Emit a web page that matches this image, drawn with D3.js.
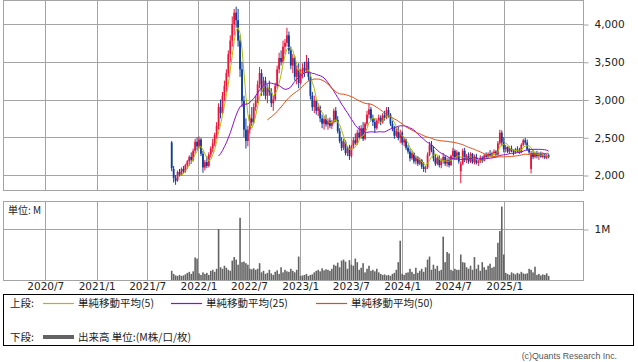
<!DOCTYPE html>
<html>
<head>
<meta charset="utf-8">
<script src="https://cdn.jsdelivr.net/npm/d3@7"></script>
<style>
  body { margin: 0; background: #fff; }
  svg { display: block; }
  .num { font-family: "DejaVu Sans", sans-serif; fill: #222; }
  .jp { font-family: "Noto Sans CJK JP", sans-serif; fill: #222; }
</style>
</head>
<body>
<div id="chart"></div>
<script>
// weekly bars, first week starts 2021/9/27
const firstWeek = new Date(2021, 8, 27);

const weekOpen = [
  2430,2080,1960,1930,2040,2000,2080,2050,2130,2180,
  2240,2200,2320,2440,2380,2470,2280,2100,2170,2120,
  2270,2350,2420,2530,2650,2900,2820,3050,3180,3350,
  3600,3780,4000,4150,4050,3780,3400,2980,2600,2450,
  2600,2750,2700,2900,2980,3200,3350,3100,3250,3050,
  3150,3100,2950,3000,3180,3400,3550,3500,3700,3750,
  3850,3650,3450,3550,3300,3400,3220,3350,3420,3380,
  3500,3300,3050,2900,2980,2850,2900,2750,2680,2740,
  2670,2720,2650,2700,2850,2730,2580,2450,2360,2440,
  2290,2350,2250,2380,2460,2420,2560,2500,2620,2480,
  2680,2800,2870,2750,2700,2620,2720,2760,2700,2790,
  2760,2860,2800,2680,2620,2520,2580,2490,2560,2430,
  2470,2360,2310,2220,2290,2180,2230,2150,2200,2110,
  2080,2100,2270,2400,2330,2220,2150,2230,2130,2190,
  2240,2150,2200,2130,2250,2320,2230,2300,2050,2150,
  2320,2200,2250,2180,2280,2170,2240,2160,2180,2230,
  2190,2260,2240,2280,2260,2290,2310,2270,2420,2560,
  2430,2340,2370,2310,2350,2320,2300,2340,2320,2300,
  2400,2460,2430,2340,2080,2290,2240,2290,2250,2280,
  2240,2270,2230,2260
];
const weekHigh = [
  2450,2120,2000,2060,2080,2100,2120,2150,2200,2260,
  2300,2350,2480,2500,2510,2490,2320,2200,2250,2300,
  2380,2480,2560,2700,2950,3000,3100,3250,3400,3650,
  3850,4100,4200,4230,4200,3850,3500,3050,2750,2650,
  2800,2900,2950,3050,3250,3430,3400,3300,3300,3200,
  3250,3150,3050,3220,3450,3620,3650,3780,3800,3950,
  3900,3700,3600,3580,3450,3480,3400,3480,3500,3590,
  3550,3350,3100,3050,3000,2950,2920,2800,2780,2800,
  2750,2760,2730,2880,2900,2780,2620,2500,2480,2460,
  2380,2400,2400,2500,2550,2600,2650,2660,2700,2700,
  2850,2950,2900,2800,2750,2750,2800,2790,2820,2850,
  2900,2900,2820,2720,2650,2620,2640,2600,2580,2500,
  2480,2400,2350,2320,2300,2260,2250,2230,2210,2170,
  2120,2300,2440,2450,2380,2280,2250,2260,2220,2290,
  2260,2230,2230,2270,2360,2340,2330,2310,2180,2350,
  2360,2280,2300,2300,2290,2270,2280,2200,2260,2250,
  2280,2300,2300,2330,2310,2340,2330,2450,2600,2590,
  2500,2400,2380,2380,2390,2340,2360,2380,2360,2420,
  2480,2490,2470,2360,2320,2330,2310,2320,2300,2310,
  2300,2290,2280,2280
];
const weekLow = [
  2050,1900,1870,1910,1980,1990,2020,2030,2080,2120,
  2150,2180,2280,2330,2350,2250,2030,2060,2090,2100,
  2230,2300,2380,2480,2600,2750,2800,2980,3100,3300,
  3500,3700,3850,3950,3700,3300,2900,2500,2350,2380,
  2550,2650,2680,2850,2950,3150,3050,3050,3000,2950,
  3050,2900,2850,2980,3150,3350,3450,3480,3600,3700,
  3600,3400,3350,3250,3200,3150,3200,3280,3300,3350,
  3250,3000,2850,2820,2800,2780,2700,2620,2600,2640,
  2600,2620,2610,2680,2700,2550,2420,2320,2330,2260,
  2250,2200,2230,2350,2400,2400,2480,2480,2450,2460,
  2650,2750,2720,2650,2560,2600,2680,2660,2680,2720,
  2740,2760,2650,2580,2480,2500,2460,2420,2400,2380,
  2330,2280,2180,2200,2150,2140,2120,2130,2080,2040,
  2030,2080,2250,2300,2180,2120,2130,2100,2090,2150,
  2120,2110,2100,2120,2200,2200,2200,2150,1890,2130,
  2170,2160,2150,2160,2150,2140,2140,2120,2160,2160,
  2180,2220,2220,2240,2230,2260,2250,2250,2400,2380,
  2300,2300,2290,2280,2300,2260,2280,2300,2280,2290,
  2380,2400,2320,2280,2020,2210,2220,2220,2200,2230,
  2220,2210,2210,2220
];
const weekClose = [
  2090,1960,1920,2040,2000,2080,2050,2130,2180,2240,
  2200,2320,2440,2380,2470,2280,2100,2170,2120,2270,
  2350,2420,2530,2650,2900,2820,3050,3180,3350,3600,
  3780,4000,4150,4050,3780,3400,2980,2600,2450,2600,
  2750,2700,2900,2980,3200,3350,3100,3250,3050,3150,
  3100,2950,3000,3180,3400,3550,3500,3700,3750,3850,
  3650,3450,3550,3300,3400,3220,3350,3420,3380,3500,
  3300,3050,2900,2980,2850,2900,2750,2680,2740,2670,
  2720,2650,2700,2850,2730,2580,2450,2360,2440,2290,
  2350,2250,2380,2460,2420,2560,2500,2620,2480,2680,
  2800,2870,2750,2700,2620,2720,2760,2700,2790,2760,
  2860,2800,2680,2620,2520,2580,2490,2560,2430,2470,
  2360,2310,2220,2290,2180,2230,2150,2200,2110,2080,
  2100,2270,2400,2330,2220,2150,2230,2130,2190,2240,
  2150,2200,2130,2250,2320,2230,2300,2180,2150,2320,
  2200,2250,2180,2280,2170,2240,2160,2180,2230,2190,
  2260,2240,2280,2260,2290,2310,2270,2420,2560,2430,
  2340,2370,2310,2350,2320,2300,2340,2320,2300,2400,
  2460,2430,2340,2300,2290,2240,2290,2250,2280,2240,
  2270,2230,2260,2240
];
// volume in millions
const weekVolume = [
  0.18,0.12,0.09,0.08,0.10,0.08,0.09,0.11,0.14,0.16,
  0.12,0.17,0.44,0.42,0.13,0.10,0.15,0.12,0.14,0.10,
  0.18,0.20,0.16,0.22,1.00,0.25,0.22,0.28,0.24,0.20,
  0.18,0.38,0.45,0.40,0.30,1.22,0.35,0.36,0.33,0.30,
  0.22,0.21,0.23,0.20,0.22,0.33,0.15,0.18,0.12,0.14,
  0.20,0.13,0.10,0.16,0.19,0.12,0.25,0.15,0.20,0.17,
  0.16,0.22,0.18,0.15,0.20,0.46,0.08,0.09,0.10,0.12,
  0.08,0.10,0.11,0.15,0.18,0.20,0.17,0.23,0.19,0.21,
  0.20,0.18,0.22,0.30,0.28,0.34,0.25,0.38,0.40,0.36,
  0.22,0.39,0.30,0.28,0.42,0.35,0.20,0.24,0.33,0.15,
  0.22,0.28,0.18,0.20,0.17,0.22,0.15,0.12,0.10,0.11,
  0.09,0.10,0.08,0.12,0.14,0.20,0.35,0.77,0.12,0.10,
  0.14,0.15,0.22,0.16,0.12,0.24,0.14,0.18,0.22,0.16,
  0.25,0.40,0.46,0.20,0.30,0.22,0.28,0.18,0.20,0.85,
  0.35,0.55,0.52,0.20,0.18,0.22,0.20,0.20,0.50,0.35,
  0.34,0.25,0.22,0.28,0.20,0.45,0.22,0.30,0.18,0.35,
  0.25,0.20,0.28,0.32,0.24,0.26,0.45,0.73,0.96,1.44,
  0.50,0.14,0.12,0.10,0.15,0.13,0.11,0.14,0.12,0.16,
  0.13,0.12,0.13,0.22,0.20,0.15,0.26,0.10,0.12,0.09,
  0.11,0.10,0.13,0.08
];

const priceTicks = [2000, 2500, 3000, 3500, 4000];
const volumeTicks = [1];
const dateTicks = ["2020/7","2021/1","2021/7","2022/1","2022/7","2023/1","2023/7","2024/1","2024/7","2025/1"];
const maPeriods = [5, 25, 50];
const maColors = ["#aabd00", "#8a0fd0", "#dc4e18"];
const legendNames = ["単純移動平均(5)", "単純移動平均(25)", "単純移動平均(50)"];

const W = 638, H = 362;
const left = 3, right = 583;
const priceTop = 0, priceBottom = 190;
const volTop = 201, volBottom = 280;

const parseTick = d3.timeParse("%Y/%m");
const tickDates = dateTicks.map(parseTick);

const x = d3.scaleTime()
    .domain([new Date(2020, 6, 1), new Date(2025, 0, 1)])
    .range([45.3, 504.3]);
const y = d3.scaleLinear().domain([2000, 4000]).range([175, 24]);
const yv = d3.scaleLinear().domain([0, 1]).range([volBottom, 229]);

const weeks = weekClose.map((c, i) => ({
    date: d3.timeDay.offset(firstWeek, i * 7),
    o: weekOpen[i], h: weekHigh[i], l: weekLow[i], c: c, v: weekVolume[i]
}));

function movingAvg(n) {
    let out = [];
    for (let i = n - 1; i < weeks.length; i++) {
        let s = 0;
        for (let k = i - n + 1; k <= i; k++) s += weeks[k].c;
        out.push({ date: weeks[i].date, v: s / n });
    }
    return out;
}

const svg = d3.select("#chart").append("svg")
    .attr("width", W)
    .attr("height", H);

svg.append("rect").attr("width", W).attr("height", H).attr("fill", "#fff");

// panels + grid
function panel(top, bottom, scale, ticks, fmt) {
    let g = svg.append("g");
    g.selectAll(".vg")
        .data(tickDates)
        .enter().append("line")
        .attr("x1", d => Math.round(x(d)) + 0.5)
        .attr("x2", d => Math.round(x(d)) + 0.5)
        .attr("y1", top).attr("y2", bottom)
        .attr("stroke", "#a4a4a4");
    g.selectAll(".hg")
        .data(ticks)
        .enter().append("line")
        .attr("x1", left).attr("x2", right)
        .attr("y1", d => Math.round(scale(d)) + 0.5)
        .attr("y2", d => Math.round(scale(d)) + 0.5)
        .attr("stroke", "#a4a4a4");
    g.append("rect")
        .attr("x", left + 0.5).attr("y", top + 0.5)
        .attr("width", right - left).attr("height", bottom - top)
        .attr("fill", "none").attr("stroke", "#a4a4a4");

    let ax = g.append("g")
        .attr("transform", "translate(" + (right + 0.5) + ",0.5)")
        .call(d3.axisRight(scale).tickValues(ticks).tickSize(5).tickPadding(6).tickFormat(fmt));
    ax.select(".domain").remove();
    ax.selectAll("line").attr("stroke", "#a4a4a4");
    ax.selectAll("text").attr("class", "num").style("font-size", "10.5px");
    return g;
}

panel(priceTop, priceBottom, y, priceTicks, d3.format(","));
panel(volTop, volBottom, yv, volumeTicks, d => d + "M");

svg.append("text")
    .attr("class", "jp")
    .attr("x", 8).attr("y", 214)
    .style("font-size", "10px")
    .text("単位: M");

// date axis
let xa = svg.append("g")
    .attr("transform", "translate(0," + volBottom + ")")
    .call(d3.axisBottom(x).tickValues(tickDates).tickSize(0).tickPadding(3)
        .tickFormat(d3.timeFormat("%Y/%-m")));
xa.select(".domain").remove();
xa.selectAll("text").attr("class", "num").style("font-size", "10.5px");

// volume bars
svg.append("g").selectAll("rect")
    .data(weeks)
    .enter().append("rect")
    .attr("x", d => x(d.date) - 0.8)
    .attr("width", 1.6)
    .attr("y", d => yv(d.v))
    .attr("height", d => volBottom - yv(d.v))
    .attr("fill", "#636363");

// candles
const up = "#e8143c", down = "#103c9c";
let candles = svg.append("g").selectAll("g")
    .data(weeks)
    .enter().append("g");
candles.append("line")
    .attr("x1", d => x(d.date)).attr("x2", d => x(d.date))
    .attr("y1", d => y(d.h)).attr("y2", d => y(d.l))
    .attr("stroke", d => d.c >= d.o ? up : down)
    .attr("stroke-width", 1);
candles.append("rect")
    .attr("x", d => x(d.date) - 0.9)
    .attr("width", 1.8)
    .attr("y", d => y(Math.max(d.o, d.c)))
    .attr("height", d => Math.max(1, Math.abs(y(d.o) - y(d.c))))
    .attr("fill", d => d.c >= d.o ? up : down);

// moving averages
const line = d3.line().x(d => x(d.date)).y(d => y(d.v));
maPeriods.forEach((n, k) => {
    svg.append("path")
        .datum(movingAvg(n))
        .attr("d", line)
        .attr("fill", "none")
        .attr("stroke", maColors[k])
        .attr("stroke-width", 1);
});

// legend
svg.append("rect")
    .attr("x", 3.5).attr("y", 294.5)
    .attr("width", 630).attr("height", 51)
    .attr("fill", "none").attr("stroke", "#000");

const legX = [43, 171, 316];
svg.append("text").attr("class", "jp").attr("x", 10).attr("y", 307)
    .style("font-size", "10.5px").text("上段:");
legendNames.forEach((name, k) => {
    svg.append("line")
        .attr("x1", legX[k]).attr("x2", legX[k] + 31)
        .attr("y1", 303.5).attr("y2", 303.5)
        .attr("stroke", maColors[k])
        .attr("stroke-width", 1.2);
    svg.append("text").attr("class", "jp")
        .attr("x", legX[k] + 35).attr("y", 307)
        .style("font-size", "10.5px").text(name);
});
svg.append("text").attr("class", "jp").attr("x", 10).attr("y", 341)
    .style("font-size", "10.5px").text("下段:");
svg.append("line")
    .attr("x1", 43).attr("x2", 74)
    .attr("y1", 337).attr("y2", 337)
    .attr("stroke", "#636363").attr("stroke-width", 4);
svg.append("text").attr("class", "jp").attr("x", 78).attr("y", 341)
    .style("font-size", "10.5px").text("出来高 単位:(M株/口/枚)");

svg.append("text")
    .attr("x", 617).attr("y", 359)
    .attr("text-anchor", "end")
    .style("font-family", "'Liberation Sans', sans-serif")
    .style("font-size", "8.8px")
    .attr("fill", "#555")
    .text("(c)Quants Research Inc.");
</script>
</body>
</html>
